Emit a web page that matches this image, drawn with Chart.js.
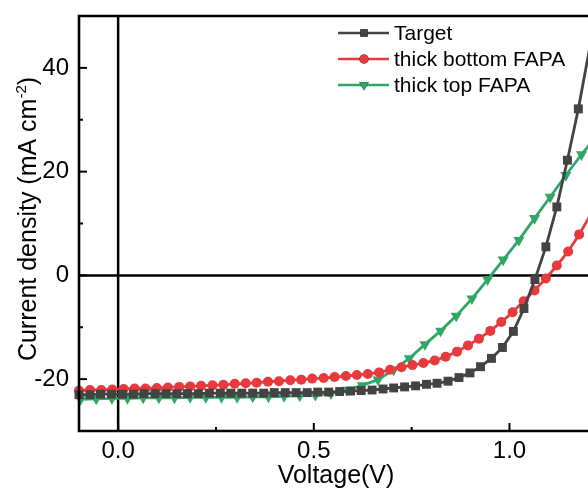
<!DOCTYPE html>
<html><head><meta charset="utf-8">
<script src="https://cdn.jsdelivr.net/npm/chart.js@4/dist/chart.umd.min.js"></script>
<style>html,body{margin:0;padding:0;background:#fff;overflow:hidden}canvas{display:block}</style>
</head><body>
<canvas id="c" width="588" height="491"></canvas>
<script>
// ---- data ----
const seriesNames = ['Target', 'thick bottom FAPA', 'thick top FAPA'];

const targetV = [-0.100,-0.072,-0.045,-0.017,0.011,0.039,0.066,0.094,0.122,0.150,0.177,0.205,0.233,0.261,0.288,0.316,0.344,0.372,0.399,0.427,0.455,0.483,0.510,0.538,0.566,0.594,0.621,0.649,0.677,0.704,0.732,0.760,0.788,0.815,0.843,0.871,0.899,0.926,0.954,0.982,1.010,1.037,1.065,1.093,1.121,1.148,1.176,1.204];
const targetJ = [-23.0,-23.0,-22.9,-22.9,-22.9,-22.9,-22.8,-22.8,-22.8,-22.8,-22.8,-22.8,-22.7,-22.7,-22.7,-22.7,-22.7,-22.7,-22.6,-22.6,-22.6,-22.6,-22.5,-22.5,-22.4,-22.3,-22.2,-22.1,-21.9,-21.7,-21.5,-21.3,-21.0,-20.8,-20.4,-19.7,-18.8,-17.6,-16.0,-13.9,-10.8,-6.4,-0.8,5.5,13.2,22.2,32.1,43.5];

const bottomV = [-0.100,-0.072,-0.043,-0.015,0.014,0.042,0.070,0.099,0.127,0.156,0.184,0.212,0.241,0.269,0.298,0.326,0.354,0.383,0.411,0.440,0.468,0.496,0.525,0.553,0.582,0.610,0.638,0.667,0.695,0.724,0.752,0.780,0.809,0.837,0.866,0.894,0.922,0.951,0.979,1.008,1.036,1.064,1.093,1.121,1.150,1.178,1.206];
const bottomJ = [-22.2,-22.1,-22.1,-22.0,-21.9,-21.8,-21.8,-21.7,-21.6,-21.5,-21.4,-21.3,-21.2,-21.1,-20.9,-20.8,-20.7,-20.5,-20.4,-20.2,-20.1,-19.9,-19.8,-19.6,-19.4,-19.2,-19.0,-18.7,-18.2,-17.7,-17.3,-16.9,-16.4,-15.7,-14.7,-13.5,-12.2,-10.7,-9.0,-7.1,-5.0,-2.9,-0.6,1.9,4.6,7.9,11.5];

const topV = [-0.096,-0.056,-0.016,0.024,0.064,0.104,0.144,0.184,0.224,0.264,0.304,0.344,0.384,0.424,0.464,0.504,0.544,0.584,0.624,0.664,0.704,0.744,0.784,0.824,0.864,0.904,0.944,0.984,1.024,1.064,1.104,1.144,1.184,1.224];
const topJ = [-23.9,-23.8,-23.7,-23.7,-23.6,-23.6,-23.6,-23.5,-23.5,-23.5,-23.5,-23.4,-23.4,-23.3,-23.2,-23.1,-22.8,-22.1,-21.2,-20.1,-18.2,-16.0,-13.3,-10.7,-7.8,-4.5,-0.8,3.0,6.8,11.0,15.1,19.3,23.3,27.0];

const xTicks = [0, 0.5, 1.0];
const xMinorTicks = [0.25, 0.75];
const yTicks = [-20, 0, 20, 40];
const yMinorTicks = [-10, 10, 30];
const xTitle = 'Voltage(V)';
const yTitleMain = 'Current density (mA cm';
const yTitleSup = '-2';
const yTitleEnd = ')';

// ---- styles ----
const colors = ['#434343', '#e8393c', '#31a767'];
const shapes = ['rect', 'circle', 'triangle'];
const radii = [6.3, 5.0, 6.4];
const legendRadii = [5.2, 4.6, 5.6];
const rotations = [0, 0, 180];
const FONT = '"Liberation Sans", Arial, sans-serif';

function pts(xs, ys) { return xs.map((v, i) => ({ x: v, y: ys[i] })); }
const seriesData = [pts(targetV, targetJ), pts(bottomV, bottomJ), pts(topV, topJ)];

const datasets = seriesData.map((d, i) => ({
  label: seriesNames[i],
  data: d,
  showLine: true,
  clip: false,
  borderColor: colors[i],
  backgroundColor: colors[i],
  borderWidth: 2.8,
  pointStyle: shapes[i],
  pointRadius: radii[i],
  pointRotation: rotations[i],
  pointBorderWidth: 0,
  pointBackgroundColor: colors[i],
  tension: 0
}));

function seg(ctx, x1, y1, x2, y2) { ctx.beginPath(); ctx.moveTo(x1, y1); ctx.lineTo(x2, y2); ctx.stroke(); }

const decor = {
  id: 'decor',
  beforeDatasetsDraw(chart) {
    const { ctx, chartArea: a, scales: { x, y } } = chart;
    ctx.save();
    ctx.strokeStyle = '#000'; ctx.lineWidth = 2.5;
    const x0 = x.getPixelForValue(0), y0 = y.getPixelForValue(0);
    seg(ctx, x0, a.top, x0, a.bottom);
    seg(ctx, a.left, y0, chart.width, y0);
    ctx.restore();
  },
  afterDatasetsDraw(chart) {
    const { ctx, chartArea: a, scales: { x, y } } = chart;
    ctx.save();
    ctx.strokeStyle = '#000'; ctx.lineWidth = 2.6; ctx.lineCap = 'square';
    ctx.beginPath();
    ctx.moveTo(chart.width + 2, a.top); ctx.lineTo(a.left, a.top); ctx.lineTo(a.left, a.bottom); ctx.lineTo(chart.width + 2, a.bottom);
    ctx.stroke();
    ctx.lineCap = 'butt'; ctx.lineWidth = 2;
    yTicks.forEach(v => { const p = y.getPixelForValue(v); seg(ctx, a.left, p, a.left + 8, p); });
    yMinorTicks.forEach(v => { const p = y.getPixelForValue(v); seg(ctx, a.left, p, a.left + 4, p); });
    xTicks.forEach(v => { const p = x.getPixelForValue(v); seg(ctx, p, a.bottom, p, a.bottom - 8); });
    xMinorTicks.forEach(v => { const p = x.getPixelForValue(v); seg(ctx, p, a.bottom, p, a.bottom - 4); });

    // legend
    const lx1 = 338, lx2 = 389, ly = [33, 59, 85], tb = [39.5, 65.5, 91.5];
    ctx.font = '21px ' + FONT; ctx.fillStyle = '#000'; ctx.textBaseline = 'alphabetic'; ctx.textAlign = 'left';
    seriesNames.forEach((n, i) => {
      ctx.strokeStyle = colors[i]; ctx.lineWidth = 2.5;
      seg(ctx, lx1, ly[i], lx2, ly[i]);
      Chart.helpers.drawPoint(ctx, { pointStyle: shapes[i], rotation: rotations[i], radius: legendRadii[i], borderWidth: 0 }, 364, ly[i]);
      ctx.fillStyle = colors[i]; ctx.fill();
      ctx.fillStyle = '#000';
      ctx.fillText(n, 394, tb[i]);
    });

    // x title
    ctx.font = '25px ' + FONT; ctx.textAlign = 'center'; ctx.fillStyle = '#000';
    ctx.fillText(xTitle, 336, 483);

    // y title with superscript
    ctx.translate(36, 219); ctx.rotate(-Math.PI / 2);
    ctx.textAlign = 'left';
    const fMain = '25px ' + FONT, fSup = '15px ' + FONT;
    ctx.font = fMain; const w1 = ctx.measureText(yTitleMain).width; const w3 = ctx.measureText(yTitleEnd).width;
    ctx.font = fSup; const w2 = ctx.measureText(yTitleSup).width;
    let sx = -(w1 + w2 + w3) / 2;
    ctx.font = fMain; ctx.fillText(yTitleMain, sx, 0); sx += w1;
    ctx.font = fSup; ctx.fillText(yTitleSup, sx, -10); sx += w2;
    ctx.font = fMain; ctx.fillText(yTitleEnd, sx, 0);
    ctx.restore();
  }
};

new Chart(document.getElementById('c'), {
  type: 'scatter',
  data: { datasets },
  options: {
    responsive: false, animation: false, devicePixelRatio: 1,
    layout: { padding: { top: 16, right: 0, bottom: 0, left: 0 } },
    plugins: { legend: { display: false }, tooltip: { enabled: false } },
    scales: {
      x: {
        type: 'linear', min: -0.1, max: 1.1843,
        grid: { display: false, drawTicks: false }, border: { display: false },
        afterBuildTicks: s => { s.ticks = xTicks.map(v => ({ value: v })); },
        afterFit: s => { s.height = 60; s.paddingLeft = 0; s.paddingRight = 0; },
        ticks: { color: '#000', padding: 6, maxRotation: 0, font: { family: FONT, size: 24 }, callback: v => Number(v).toFixed(1) }
      },
      y: {
        type: 'linear', min: -30, max: 50,
        grid: { display: false, drawTicks: false }, border: { display: false },
        afterBuildTicks: s => { s.ticks = yTicks.map(v => ({ value: v })); },
        afterFit: s => { s.width = 79; s.paddingTop = 0; s.paddingBottom = 0; },
        ticks: { color: '#000', padding: 10, font: { family: FONT, size: 24 }, callback: v => String(v) }
      }
    }
  },
  plugins: [decor]
});
</script>
</body></html>
